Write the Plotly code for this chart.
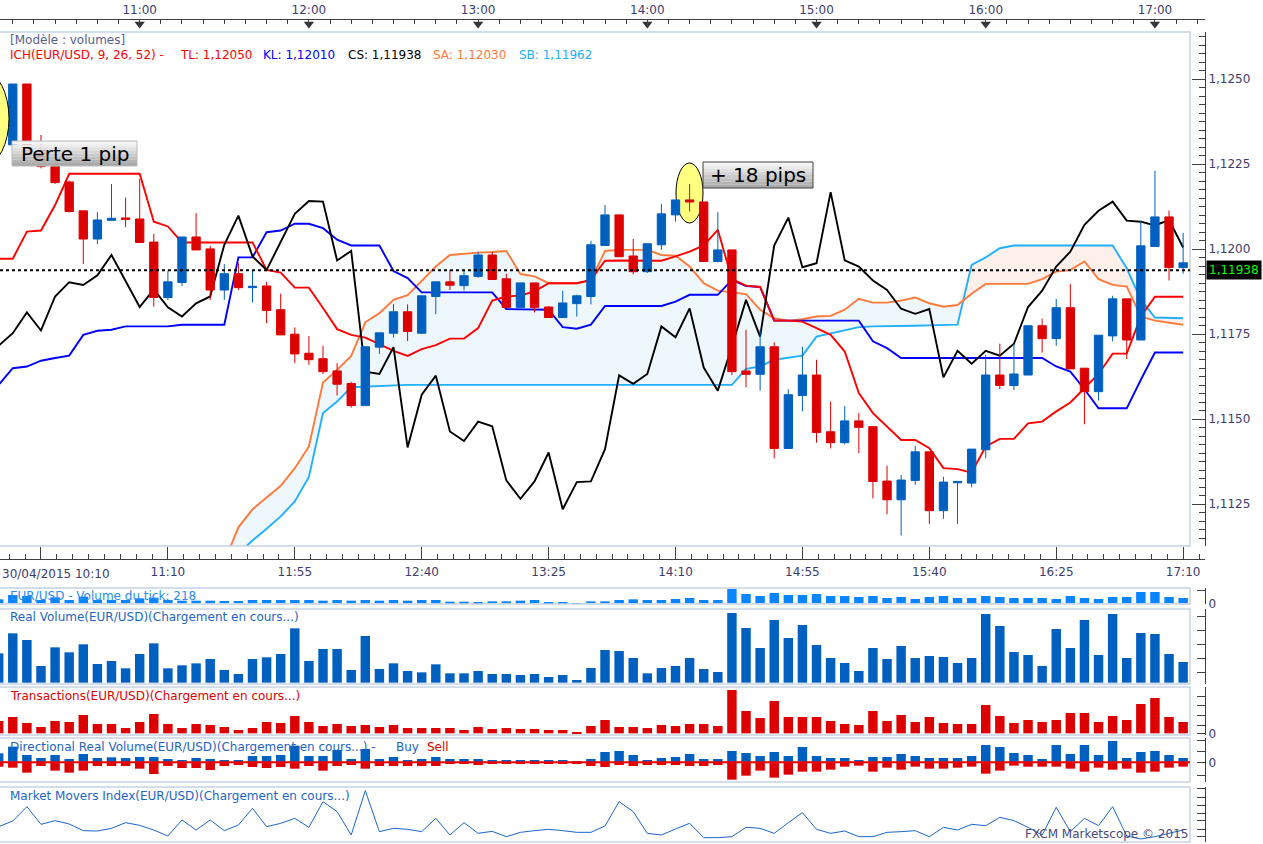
import plotly.graph_objects as go
import pandas as pd

W, H = 1263, 844
FONT = "DejaVu Sans"

# EUR/USD 5 min candles, 30/04/2015 10:10 -> 17:10
open_ = [
    1.12301, 1.12307, 1.12486, 1.12292, 1.12243, 1.12198, 1.12113, 1.12030, 1.12085, 1.12092,
    1.12089, 1.12021, 1.11858, 1.11902, 1.12036, 1.12001, 1.11880, 1.11928, 1.11887, 1.11892,
    1.11822, 1.11750, 1.11694, 1.11678, 1.11642, 1.11605, 1.11540, 1.11712, 1.11753, 1.11816,
    1.11753, 1.11861, 1.11904, 1.11893, 1.11920, 1.11983, 1.11913, 1.11829, 1.11901, 1.11830,
    1.11799, 1.11840, 1.11861, 1.12011, 1.12101, 1.11980, 1.11934, 1.12013, 1.12101, 1.12145,
    1.12139, 1.11964, 1.11998, 1.11642, 1.11632, 1.11713, 1.11414, 1.11570, 1.11630, 1.11463,
    1.11431, 1.11495, 1.11478, 1.11318, 1.11263, 1.11320, 1.11404, 1.11231, 1.11313, 1.11312,
    1.11410, 1.11630, 1.11599, 1.11630, 1.11775, 1.11737, 1.11828, 1.11650, 1.11581, 1.11745,
    1.11854, 1.11733, 1.12008, 1.12095, 1.11946]
high = [
    1.12430, 1.12486, 1.12486, 1.12336, 1.12248, 1.12202, 1.12113, 1.12109, 1.12192, 1.12152,
    1.12207, 1.12045, 1.11936, 1.12036, 1.12106, 1.12010, 1.11956, 1.11959, 1.11939, 1.11904,
    1.11869, 1.11770, 1.11745, 1.11716, 1.11665, 1.11610, 1.11713, 1.11754, 1.11839, 1.11838,
    1.11863, 1.11904, 1.11939, 1.11939, 1.11993, 1.11993, 1.11928, 1.11901, 1.11901, 1.11833,
    1.11878, 1.11866, 1.12025, 1.12130, 1.12101, 1.12030, 1.12016, 1.12133, 1.12145, 1.12192,
    1.12139, 1.12109, 1.11998, 1.11763, 1.11763, 1.11726, 1.11588, 1.11713, 1.11675, 1.11552,
    1.11539, 1.11518, 1.11478, 1.11363, 1.11336, 1.11422, 1.11404, 1.11331, 1.11317, 1.11412,
    1.11689, 1.11722, 1.11722, 1.11775, 1.11796, 1.11854, 1.11898, 1.11650, 1.11747, 1.11863,
    1.11854, 1.12084, 1.12231, 1.12114, 1.12048]
low = [
    1.12292, 1.12302, 1.12282, 1.12238, 1.12192, 1.12108, 1.11956, 1.12015, 1.12085, 1.12065,
    1.12020, 1.11831, 1.11851, 1.11892, 1.11998, 1.11851, 1.11851, 1.11880, 1.11844, 1.11782,
    1.11748, 1.11665, 1.11660, 1.11633, 1.11570, 1.11534, 1.11540, 1.11692, 1.11740, 1.11730,
    1.11751, 1.11809, 1.11880, 1.11879, 1.11916, 1.11911, 1.11829, 1.11829, 1.11814, 1.11799,
    1.11799, 1.11802, 1.11838, 1.12011, 1.11978, 1.11926, 1.11930, 1.11998, 1.12081, 1.12111,
    1.11964, 1.11961, 1.11630, 1.11594, 1.11584, 1.11385, 1.11414, 1.11523, 1.11431, 1.11414,
    1.11426, 1.11400, 1.11267, 1.11220, 1.11158, 1.11307, 1.11192, 1.11207, 1.11192, 1.11300,
    1.11385, 1.11589, 1.11586, 1.11630, 1.11696, 1.11716, 1.11648, 1.11485, 1.11555, 1.11729,
    1.11677, 1.11733, 1.12008, 1.11908, 1.11928]
close = [
    1.12410, 1.12486, 1.12292, 1.12243, 1.12196, 1.12111, 1.12030, 1.12086, 1.12091, 1.12088,
    1.12020, 1.11858, 1.11904, 1.12036, 1.11998, 1.11880, 1.11928, 1.11887, 1.11891, 1.11820,
    1.11748, 1.11692, 1.11675, 1.11640, 1.11603, 1.11540, 1.11713, 1.11754, 1.11816, 1.11758,
    1.11863, 1.11904, 1.11894, 1.11922, 1.11983, 1.11911, 1.11829, 1.11901, 1.11829, 1.11799,
    1.11842, 1.11863, 1.12013, 1.12101, 1.11978, 1.11934, 1.12016, 1.12104, 1.12145, 1.12139,
    1.11964, 1.11998, 1.11640, 1.11632, 1.11713, 1.11414, 1.11572, 1.11630, 1.11461, 1.11431,
    1.11495, 1.11476, 1.11317, 1.11263, 1.11321, 1.11404, 1.11231, 1.11315, 1.11317, 1.11412,
    1.11630, 1.11599, 1.11633, 1.11775, 1.11737, 1.11828, 1.11648, 1.11581, 1.11747, 1.11854,
    1.11733, 1.12010, 1.12095, 1.11946, 1.11960]

# Ichimoku lines as drawn on the chart
tenkan = [
    1.11972, 1.11972, 1.12052, 1.12055, 1.12130, 1.12222, 1.12222, 1.12222, 1.12222, 1.12222,
    1.12222, 1.12081, 1.12067, 1.12020, 1.12020, 1.12020, 1.12020, 1.12020, 1.12020, 1.11939,
    1.11931, 1.11887, 1.11887, 1.11827, 1.11765, 1.11748, 1.11740, 1.11721, 1.11701, 1.11686,
    1.11706, 1.11718, 1.11737, 1.11737, 1.11768, 1.11849, 1.11861, 1.11864, 1.11876, 1.11900,
    1.11900, 1.11900, 1.11910, 1.11966, 1.11967, 1.11966, 1.11966, 1.11966, 1.11979, 1.11993,
    1.12011, 1.12057, 1.11912, 1.11893, 1.11889, 1.11790, 1.11790, 1.11787, 1.11768, 1.11748,
    1.11699, 1.11577, 1.11518, 1.11479, 1.11439, 1.11439, 1.11415, 1.11356, 1.11353, 1.11343,
    1.11420, 1.11442, 1.11442, 1.11488, 1.11493, 1.11523, 1.11549, 1.11591, 1.11633, 1.11693,
    1.11693, 1.11802, 1.11860, 1.11860, 1.11860]
kijun = [
    1.11601, 1.11650, 1.11655, 1.11672, 1.11680, 1.11687, 1.11748, 1.11760, 1.11763, 1.11773,
    1.11773, 1.11773, 1.11773, 1.11778, 1.11778, 1.11778, 1.11778, 1.11976, 1.11976, 1.12050,
    1.12055, 1.12075, 1.12075, 1.12062, 1.12028, 1.12011, 1.12011, 1.12011, 1.11936, 1.11915,
    1.11873, 1.11873, 1.11873, 1.11873, 1.11873, 1.11873, 1.11824, 1.11824, 1.11824, 1.11822,
    1.11771, 1.11766, 1.11778, 1.11833, 1.11833, 1.11833, 1.11833, 1.11833, 1.11846, 1.11866,
    1.11866, 1.11866, 1.11910, 1.11892, 1.11889, 1.11790, 1.11790, 1.11790, 1.11790, 1.11790,
    1.11790, 1.11790, 1.11729, 1.11709, 1.11680, 1.11680, 1.11680, 1.11680, 1.11680, 1.11680,
    1.11680, 1.11680, 1.11680, 1.11680, 1.11680, 1.11655, 1.11640, 1.11588, 1.11532, 1.11532,
    1.11532, 1.11616, 1.11696, 1.11696, 1.11696]
chikou = [
    1.11716, 1.11753, 1.11814, 1.11761, 1.11861, 1.11903, 1.11895, 1.11923, 1.11983, 1.11907,
    1.11830, 1.11882, 1.11829, 1.11802, 1.11841, 1.11861, 1.12013, 1.12099, 1.11979, 1.11939,
    1.12023, 1.12104, 1.12142, 1.12140, 1.11967, 1.11995, 1.11640, 1.11633, 1.11712, 1.11417,
    1.11572, 1.11628, 1.11464, 1.11436, 1.11493, 1.11479, 1.11320, 1.11266, 1.11317, 1.11402,
    1.11235, 1.11315, 1.11317, 1.11412, 1.11629, 1.11604, 1.11633, 1.11773, 1.11741, 1.11826,
    1.11652, 1.11584, 1.11714, 1.11851, 1.11743, 1.12011, 1.12093, 1.11947, 1.11959, 1.12168,
    1.11967, 1.11949, 1.11908, 1.11880, 1.11825, 1.11810, 1.11824, 1.11623, 1.11701, 1.11663,
    1.11701, 1.11687, 1.11722, 1.11830, 1.11878, 1.11949, 1.11993, 1.12072, 1.12113, 1.12140,
    1.12084, 1.12081, 1.12070, 1.12086, 1.12005]
senkou_a = [None] * 16 + [
    1.11081, 1.11182, 1.11235, 1.11270, 1.11304, 1.11356, 1.11420, 1.11608, 1.11645, 1.11686,
    1.11785, 1.11812, 1.11851, 1.11865, 1.11908, 1.11949, 1.11983, 1.11987, 1.11990, 1.11992,
    1.11995, 1.11927, 1.11920, 1.11900, 1.11900, 1.11900, 1.11908, 1.11995, 1.11998, 1.11998,
    1.11998, 1.11983, 1.11981, 1.11949, 1.11900, 1.11878, 1.11873, 1.11868, 1.11822, 1.11797,
    1.11790, 1.11794, 1.11802, 1.11804, 1.11822, 1.11854, 1.11843, 1.11843, 1.11849, 1.11858,
    1.11841, 1.11831, 1.11836, 1.11869, 1.11898, 1.11898, 1.11898, 1.11898, 1.11912, 1.11934,
    1.11939, 1.11964, 1.11912, 1.11895, 1.11890, 1.11802, 1.11790, 1.11785, 1.11778]
senkou_b = [None] * 16 + [
    1.11067, 1.11106, 1.11143, 1.11178, 1.11214, 1.11258, 1.11330, 1.11518, 1.11552, 1.11594,
    1.11596, 1.11598, 1.11601, 1.11601, 1.11601, 1.11601, 1.11601, 1.11601, 1.11601, 1.11601,
    1.11601, 1.11601, 1.11601, 1.11601, 1.11601, 1.11601, 1.11601, 1.11601, 1.11601, 1.11601,
    1.11601, 1.11601, 1.11601, 1.11601, 1.11601, 1.11601, 1.11601, 1.11648, 1.11655, 1.11675,
    1.11680, 1.11687, 1.11743, 1.11753, 1.11761, 1.11771, 1.11773, 1.11773, 1.11773, 1.11775,
    1.11776, 1.11777, 1.11778, 1.11954, 1.11976, 1.12003, 1.12011, 1.12011, 1.12011, 1.12011,
    1.12011, 1.12011, 1.12011, 1.12011, 1.11944, 1.11851, 1.11799, 1.11797, 1.11797]
last_price = 1.11938

# lower indicator panels (arbitrary units)
tick_vol = [12, 25, 22, 10, 18, 10, 20, 10, 10, 10, 15, 17, 10, 8, 8, 8, 7, 7, 10, 10,
            10, 10, 10, 8, 10, 8, 10, 8, 10, 8, 10, 10, 5, 5, 2, 6, 6, 8, 10, 4,
            3, 1, 6, 6, 10, 12, 10, 10, 13, 16, 10, 10, 43, 28, 22, 31, 25, 25, 28, 22,
            22, 19, 22, 16, 19, 13, 19, 22, 16, 16, 22, 19, 16, 16, 16, 13, 22, 16, 13, 19,
            19, 34, 34, 19, 16]
real_vol = [88, 148, 128, 50, 106, 91, 115, 56, 65, 43, 86, 118, 43, 52, 58, 71, 38, 26, 71, 76,
            86, 163, 65, 101, 101, 38, 140, 41, 58, 35, 31, 55, 28, 28, 35, 26, 26, 23, 26, 17,
            23, 8, 44, 98, 95, 74, 28, 44, 50, 74, 41, 32, 209, 164, 104, 188, 134, 173, 113, 74,
            59, 35, 104, 71, 110, 74, 80, 77, 59, 74, 206, 170, 92, 83, 50, 161, 104, 188, 83, 206,
            74, 149, 146, 86, 62]
transactions = [37, 49, 31, 19, 37, 34, 55, 28, 28, 16, 34, 58, 28, 16, 28, 25, 19, 10, 16, 34,
                31, 52, 34, 22, 28, 22, 25, 19, 25, 16, 16, 16, 16, 10, 19, 13, 16, 13, 13, 10,
                10, 4, 22, 40, 19, 19, 16, 25, 22, 28, 28, 22, 130, 67, 46, 97, 49, 49, 49, 37,
                28, 25, 67, 37, 55, 34, 49, 31, 28, 28, 85, 52, 31, 40, 34, 40, 61, 61, 34, 52,
                40, 88, 106, 49, 34]
drv_buy = [27, 47, 22, 13, 22, 10, 25, 13, 15, 13, 16, 16, 10, 7, 13, 10, 7, 7, 19, 19,
           22, 50, 19, 19, 37, 10, 40, 10, 16, 7, 10, 16, 10, 10, 10, 7, 7, 7, 7, 7,
           7, 4, 10, 31, 34, 22, 7, 13, 16, 25, 10, 10, 34, 28, 19, 31, 19, 46, 19, 13,
           13, 7, 16, 16, 25, 19, 13, 13, 13, 19, 52, 46, 28, 22, 10, 52, 25, 52, 22, 64,
           13, 31, 34, 22, 13]
drv_sell = [-13, -16, -31, -11, -25, -31, -25, -11, -11, -11, -19, -35, -11, -17, -17, -23, -11, -8, -14, -17,
            -14, -19, -11, -25, -11, -8, -19, -11, -11, -11, -11, -11, -5, -5, -8, -5, -5, -5, -5, -5,
            -3, -3, -11, -14, -8, -11, -8, -8, -8, -11, -11, -8, -52, -40, -25, -46, -37, -28, -28, -22,
            -13, -10, -28, -16, -22, -13, -19, -19, -16, -13, -34, -25, -10, -13, -13, -13, -19, -28, -16, -22,
            -19, -31, -28, -16, -13]
mmi = [45, 62, 105, 52, 63, 53, 33, 32, 40, 57, 49, 35, 17, 65, 35, 65, 33, 50, 100, 45,
       55, 70, 43, 120, 90, 20, 153, 30, 40, 37, 30, 70, 20, 57, 25, 31, 15, 28, 33, 37,
       33, 28, 28, 47, 120, 90, 25, 20, 38, 55, 12, 12, 15, 43, 40, 25, 57, 87, 37, 25,
       32, 15, 15, 28, 30, 33, 15, 43, 35, 52, 48, 73, 63, 43, 20, 103, 30, 70, 48, 105,
       17, 8, 15, 25, 35]

hour_ticks = ["11:00", "12:00", "13:00", "14:00", "15:00", "16:00", "17:00"]
bottom_ticks = ["10:25", "11:10", "11:55", "12:40", "13:25", "14:10", "14:55", "15:40", "16:25", "17:10"]
bottom_labels = ["", "11:10", "11:55", "12:40", "13:25", "14:10", "14:55", "15:40", "16:25", "17:10"]
legend_items = [("ICH(EUR/USD, 9, 26, 52) -", "#ff0000", 8), ("TL: 1,12050", "#ff0000", 178),
                ("KL: 1,12010", "#0000ff", 261), ("CS: 1,11938", "#000000", 346),
                ("SA: 1,12030", "#ff7a3a", 431), ("SB: 1,11962", "#20b0ff", 517)]

day = "2015-04-30 "
times = pd.date_range(day + "10:10", periods=len(close), freq="5min")
x_range = [str(times[0] + pd.Timedelta(seconds=28)), str(times[0] + pd.Timedelta(seconds=25665))]
y_range = [1.11127, 1.12639]


def px_x(p):
    return p / W


def px_y(p):
    return 1 - p / H


XD = px_x(1205)
RED, BLUE = "#dd0000", "#0060c0"
AXC, TXT = "#404040", "#3c3c6e"
BORDER = "#c5d3e3"

fig = go.Figure()

# cloud
upper = [None if a is None else max(a, b) for a, b in zip(senkou_a, senkou_b)]
fig.add_trace(go.Scatter(x=times, y=senkou_b, mode="lines", line=dict(width=0)))
fig.add_trace(go.Scatter(x=times, y=upper, mode="lines", line=dict(width=0),
                         fill="tonexty", fillcolor="#eef7fc"))
fig.add_trace(go.Scatter(x=times, y=senkou_a, mode="lines", line=dict(width=0)))
fig.add_trace(go.Scatter(x=times, y=upper, mode="lines", line=dict(width=0),
                         fill="tonexty", fillcolor="#fdefe9"))

for vals, col in [(senkou_b, "#20b0ff"), (senkou_a, "#ff7a3a"), (kijun, "#0000ff"),
                  (tenkan, "#ff0000"), (chikou, "#000000")]:
    fig.add_trace(go.Scatter(x=times, y=vals, mode="lines", line=dict(color=col, width=1.9)))

# candles on an overlay so they sit over the lines
fig.add_trace(go.Candlestick(
    x=times, open=open_, high=high, low=low, close=close,
    increasing=dict(line=dict(color=BLUE, width=1), fillcolor=BLUE),
    decreasing=dict(line=dict(color=RED, width=1), fillcolor=RED),
    xaxis="x8", yaxis="y8"))

# hour markers on the top time axis
fig.add_trace(go.Scatter(x=[pd.Timestamp(day + h) for h in hour_ticks], y=[0.667] * len(hour_ticks),
                         mode="markers", marker=dict(symbol="triangle-down", size=9, color="#333333"),
                         xaxis="x2", yaxis="y9", cliponaxis=False))

# lower panels
fig.add_trace(go.Bar(x=times, y=tick_vol, marker=dict(color="#0a84ff", line=dict(width=0)),
                     xaxis="x3", yaxis="y3"))
fig.add_trace(go.Bar(x=times, y=real_vol, marker=dict(color=BLUE, line=dict(width=0)),
                     xaxis="x4", yaxis="y4"))
fig.add_trace(go.Bar(x=times, y=transactions, marker=dict(color=RED, line=dict(width=0)),
                     xaxis="x5", yaxis="y5"))
fig.add_trace(go.Bar(x=times, y=drv_buy, marker=dict(color=BLUE, line=dict(width=0)),
                     xaxis="x6", yaxis="y6"))
fig.add_trace(go.Bar(x=times, y=drv_sell, marker=dict(color=RED, line=dict(width=0)),
                     xaxis="x6", yaxis="y6"))
fig.add_trace(go.Scatter(x=times, y=mmi, mode="lines", line=dict(color="#1a66cc", width=1),
                         xaxis="x7", yaxis="y7"))

panels = {  # name: (top px, bottom px, range, tickvals, ticktext)
    "3": (588, 604, [-2, 46], [0, 40], ["0", ""]),
    "4": (609, 684, [-4, 221], [31, 73, 115, 157, 199], [""] * 5),
    "5": (687, 735, [-5, 139], [0, 25, 54, 83, 112], ["0", "", "", "", ""]),
    "6": (738, 782, [-59, 73], [-38, 0, 33, 67], ["", "0", "", ""]),
    "7": (787, 842, [-1, 164], [16, 38, 63, 85, 108, 134, 159], [""] * 7),
}

layout = dict(
    width=W, height=H, margin=dict(l=0, r=0, t=0, b=0, autoexpand=False),
    paper_bgcolor="white", plot_bgcolor="white",
    showlegend=False, hovermode=False, separators=", ",
    font=dict(family=FONT, size=12, color=TXT),
    bargap=0.33, barmode="overlay", boxgap=0.41, boxgroupgap=0,
    xaxis=dict(domain=[0, XD], range=x_range, anchor="free", position=px_y(559), automargin=False,
               showgrid=False, zeroline=False, showline=True, linecolor=AXC,
               ticks="inside", ticklen=12, tickcolor=AXC, ticklabelstandoff=2,
               tickmode="array", tickvals=[pd.Timestamp(day + t) for t in bottom_ticks],
               ticktext=bottom_labels, tickfont=dict(size=12, color=TXT),
               minor=dict(ticks="inside", ticklen=5, tickcolor=AXC,
                          tick0=day + bottom_ticks[0], dtick=337500),
               rangeslider=dict(visible=False)),
    yaxis=dict(domain=[px_y(546), px_y(32)], range=y_range, anchor="x", side="right", automargin=False,
               showgrid=False, zeroline=False, showline=True, linecolor=AXC,
               ticks="inside", ticklen=13, tickcolor=AXC, tickmode="linear",
               tick0=1.1125, dtick=0.0025, tickformat=".4f",
               tickfont=dict(size=12, color=TXT),
               minor=dict(ticks="inside", ticklen=6, tickcolor=AXC, tick0=1.1125, dtick=0.00025)),
    xaxis2=dict(domain=[0, XD], range=x_range, anchor="y9", side="top", automargin=False,
                showgrid=False, zeroline=False, showline=True, linecolor=AXC,
                ticks="inside", ticklen=8, tickcolor=AXC, tickmode="linear",
                tick0=day + "11:00", dtick=3600000, tickformat="%H:%M",
                tickfont=dict(size=12, color=TXT),
                minor=dict(ticks="inside", ticklen=4, tickcolor=AXC, tick0=day + "11:00", dtick=450000)),
    yaxis9=dict(domain=[px_y(32), px_y(20)], range=[0, 1], anchor="x2", visible=False, automargin=False),
    xaxis8=dict(overlaying="x", range=x_range, anchor="y8", visible=False, automargin=False,
                rangeslider=dict(visible=False)),
    yaxis8=dict(overlaying="y", range=y_range, anchor="x8", visible=False, automargin=False),
)
for k, (top, bot, rng, tv, tt) in panels.items():
    layout["xaxis" + k] = dict(domain=[0, XD], range=x_range, anchor="y" + k, visible=False,
                               automargin=False)
    layout["yaxis" + k] = dict(domain=[px_y(bot), px_y(top)], range=rng, anchor="x" + k,
                               side="right", showgrid=False, zeroline=False, showline=True,
                               linecolor=AXC, ticks="inside", ticklen=8, tickcolor=AXC,
                               tickmode="array", tickvals=tv, ticktext=tt, automargin=False,
                               tickfont=dict(size=12, color=TXT))
fig.update_layout(**layout)

shapes = []


def rect(x0, y0, x1, y1, **kw):
    shapes.append(dict(type="rect", xref="paper", yref="paper",
                       x0=px_x(x0), x1=px_x(x1), y0=px_y(y0), y1=px_y(y1), **kw))


def gray_box(x0, y0, x1, y1, edge):
    n = 8
    for k in range(n):
        c = int(246 - (246 - 170) * k / (n - 1))
        rect(x0, y0 + (y1 - y0) * k / n, x1, y0 + (y1 - y0) * (k + 1) / n,
             fillcolor=f"rgb({c},{c},{c})", line=dict(width=0), layer="above")
    rect(x0, y0, x1, y1, line=dict(color=edge, width=1), layer="above")


# panel frames
rect(-1, 32, 1190, 546, line=dict(color=BORDER, width=1.5), layer="above")
for top, bot, *_ in panels.values():
    rect(-1, top, 1190, bot, line=dict(color=BORDER, width=1.5), layer="above")

# trade markers
shapes.append(dict(type="circle", xref="paper", yref="paper", x0=px_x(676), x1=px_x(703),
                   y0=px_y(223), y1=px_y(163), fillcolor="#ffff80",
                   line=dict(color="#000000", width=1), layer="below"))
shapes.append(dict(type="circle", xref="paper", yref="paper", x0=px_x(-40), x1=px_x(9),
                   y0=px_y(165), y1=px_y(72), fillcolor="#ffff80",
                   line=dict(color="#000000", width=1), layer="above"))
gray_box(12, 141, 137, 166, "#b8b8b8")
gray_box(703, 162, 813, 188, "#404040")

# current price dotted line and DRV zero line
shapes.append(dict(type="line", xref="paper", yref="y", x0=0, x1=px_x(1190),
                   y0=last_price, y1=last_price, line=dict(color="#000000", width=2, dash="dot"),
                   layer="above"))
shapes.append(dict(type="line", xref="paper", yref="y6", x0=0, x1=px_x(1190),
                   y0=0, y1=0, line=dict(color="#ee0000", width=2), layer="above"))


def label(x, y, text, color, size=12, anchor="left", **kw):
    return dict(x=px_x(x), y=px_y(y), xref="paper", yref="paper", text=text, showarrow=False,
                xanchor=anchor, yanchor="middle", font=dict(family=FONT, size=size, color=color), **kw)


ann = [label(8, 40, "[Modèle : volumes]", "#56608e")]
for text, col, x in legend_items:
    ann.append(label(x, 55, text, col))
ann += [
    label(74.5, 153.5, "Perte 1 pip", "#000000", size=20, anchor="center"),
    label(758, 175, "+ 18 pips", "#000000", size=20, anchor="center"),
    label(0, 574, "30/04/2015 10:10", TXT),
    label(8, 596, "EUR/USD - Volume du tick: 218", "#2a8cf0"),
    label(8, 617, "Real Volume(EUR/USD)(Chargement en cours...)", "#1e64c8"),
    label(8, 695.5, "Transactions(EUR/USD)(Chargement en cours...)", "#e00000"),
    label(8, 746.5, "Directional Real Volume(EUR/USD)(Chargement en cours...) -", "#1e64c8"),
    label(394, 746.5, "Buy", "#1e64c8"),
    label(425, 746.5, "Sell", "#e00000"),
    label(8, 795.5, "Market Movers Index(EUR/USD)(Chargement en cours...)", "#1e64c8"),
    label(1190, 834, "FXCM Marketscope © 2015", "#4a4a78", anchor="right"),
    dict(x=px_x(1206), y=last_price, xref="paper", yref="y", xanchor="left", yanchor="middle",
         text=f"{last_price:.5f}".replace(".", ","), showarrow=False, bgcolor="#000000",
         borderpad=2, font=dict(family=FONT, size=12, color="#00ff00")),
]

fig.update_layout(shapes=shapes, annotations=ann)
fig.write_html("out.html", config={"displayModeBar": False},
               post_script="document.body.style.margin='0';document.body.style.overflow='hidden';")
